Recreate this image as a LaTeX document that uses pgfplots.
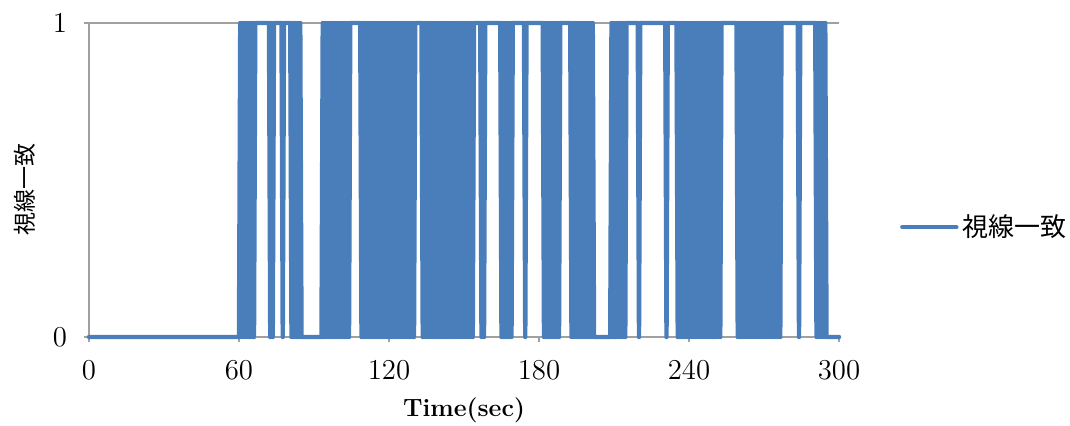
\documentclass[border=0pt]{standalone}
\usepackage{pgfplots}
\pgfplotsset{compat=1.18}
\usepackage{fontspec}
\newfontfamily\cjk{Noto Sans CJK JP}
\definecolor{serblue}{HTML}{4A7EBB}
\definecolor{axgray}{RGB}{160,160,160}
\begin{document}
\begin{tikzpicture}
\useasboundingbox (-44.5pt,-44pt) rectangle (490.5pt,168.5pt);
\begin{axis}[
  at={(0pt,0pt)}, anchor=south west,
  scale only axis, width=375pt, height=157pt,
  xmin=0, xmax=300, ymin=0, ymax=1,
  xtick={0,60,120,180,240,300}, ytick={0,1},
  axis lines*=left,
  axis line style={draw=axgray,-, line width=0.8pt},
  ymajorgrids, grid style={draw=axgray, line width=0.8pt},
  tick align=outside, major tick length=2.5pt,
  tick style={draw=axgray, line width=0.8pt},
  minor tick num=0,
  clip=false,
  ticklabel style={font=\fontsize{13.5}{15}\selectfont},
  xticklabel style={yshift=-6pt},
  yticklabel style={xshift=-5pt},
  xlabel={\textbf{Time(sec)}},
  xlabel style={at={(axis description cs:0.5,0)}, anchor=center, yshift=-36.5pt, font=\fontsize{12.5}{14}\selectfont},
  ylabel={\cjk 視線一致},
  ylabel style={at={(axis description cs:-0.0853,0.47)}, anchor=center, font=\fontsize{11.5}{13}\selectfont},
  legend style={at={(axis description cs:1.081,0.35)}, anchor=west, draw=none, fill=none, inner sep=0pt, font=\cjk\fontsize{13}{15}\selectfont},
  legend cell align=left,
  legend image code/.code={\draw[line width=2.2pt, line cap=round, serblue] (0pt,0pt) -- (27pt,0pt);},
]
\addplot[serblue, line width=2.2pt, line join=round, line cap=round] coordinates {
(0,0)(60,0)
(60.5,1)(61,0)(61.5,1)(62,0)(62.5,1)(63,0)(63.5,1)(64,0)(64.5,1)(65,0)(65.5,1)(66,0)(66.5,1)
(72,1)(72.5,0)(73,1)(73.5,0)(74,1)
(77,1)(77.5,0)(78,1)
(80.5,1)(81,0)(81.5,1)(82,0)(82.5,1)(83,0)(83.5,1)(84,0)(84.5,1)(85,0)
(93,0)(93.5,1)(94,0)(94.5,1)(95,0)(95.5,1)(96,0)(96.5,1)(97,0)(97.5,1)(98,0)(98.5,1)(99,0)(99.5,1)(100,0)(100.5,1)(101,0)(101.5,1)(102,0)(102.5,1)(103,0)(103.5,1)(104,0)(104.5,1)
(108.5,1)(109,0)(109.5,1)(110,0)(110.5,1)(111,0)(111.5,1)(112,0)(112.5,1)(113,0)(113.5,1)(114,0)(114.5,1)(115,0)(115.5,1)(116,0)(116.5,1)(117,0)(117.5,1)(118,0)(118.5,1)(119,0)(119.5,1)(120,0)(120.5,1)(121,0)(121.5,1)(122,0)(122.5,1)(123,0)(123.5,1)(124,0)(124.5,1)(125,0)(125.5,1)(126,0)(126.5,1)(127,0)(127.5,1)(128,0)(128.5,1)(129,0)(129.5,1)(130,0)(130.5,1)
(133,1)(133.5,0)(134,1)(134.5,0)(135,1)(135.5,0)(136,1)(136.5,0)(137,1)(137.5,0)(138,1)(138.5,0)(139,1)(139.5,0)(140,1)(140.5,0)(141,1)(141.5,0)(142,1)(142.5,0)(143,1)(143.5,0)(144,1)(144.5,0)(145,1)(145.5,0)(146,1)(146.5,0)(147,1)(147.5,0)(148,1)(148.5,0)(149,1)(149.5,0)(150,1)(150.5,0)(151,1)(151.5,0)(152,1)(152.5,0)(153,1)(153.5,0)(154,1)
(156.5,1)(157,0)(157.5,1)(158,0)(158.5,1)
(164.5,1)(165,0)(165.5,1)(166,0)(166.5,1)(167,0)(167.5,1)(168,0)(168.5,1)(169,0)(169.5,1)
(174,1)(174.5,0)(175,1)
(181.5,1)(182,0)(182.5,1)(183,0)(183.5,1)(184,0)(184.5,1)(185,0)(185.5,1)(186,0)(186.5,1)(187,0)(187.5,1)(188,0)(188.5,1)
(192.5,1)(193,0)(193.5,1)(194,0)(194.5,1)(195,0)(195.5,1)(196,0)(196.5,1)(197,0)(197.5,1)(198,0)(198.5,1)(199,0)(199.5,1)(200,0)(200.5,1)(201,0)(201.5,1)(202,0)
(208.5,0)(209,1)(209.5,0)(210,1)(210.5,0)(211,1)(211.5,0)(212,1)(212.5,0)(213,1)(213.5,0)(214,1)(214.5,0)(215,1)
(219.5,1)(220,0)(220.5,1)
(230.5,1)(231,0)(231.5,1)
(235,1)(235.5,0)(236,1)(236.5,0)(237,1)(237.5,0)(238,1)(238.5,0)(239,1)(239.5,0)(240,1)(240.5,0)(241,1)(241.5,0)(242,1)(242.5,0)(243,1)(243.5,0)(244,1)(244.5,0)(245,1)(245.5,0)(246,1)(246.5,0)(247,1)(247.5,0)(248,1)(248.5,0)(249,1)(249.5,0)(250,1)(250.5,0)(251,1)(251.5,0)(252,1)(252.5,0)(253,1)
(259,1)(259.5,0)(260,1)(260.5,0)(261,1)(261.5,0)(262,1)(262.5,0)(263,1)(263.5,0)(264,1)(264.5,0)(265,1)(265.5,0)(266,1)(266.5,0)(267,1)(267.5,0)(268,1)(268.5,0)(269,1)(269.5,0)(270,1)(270.5,0)(271,1)(271.5,0)(272,1)(272.5,0)(273,1)(273.5,0)(274,1)(274.5,0)(275,1)(275.5,0)(276,1)(276.5,0)(277,1)
(283.5,1)(284,0)(284.5,1)
(290.5,1)(291,0)(291.5,1)(292,0)(292.5,1)(293,0)(293.5,1)(294,0)(294.5,1)(295,0)
(300,0)
};
\addlegendentry{視線一致}
\end{axis}
\end{tikzpicture}
\end{document}
